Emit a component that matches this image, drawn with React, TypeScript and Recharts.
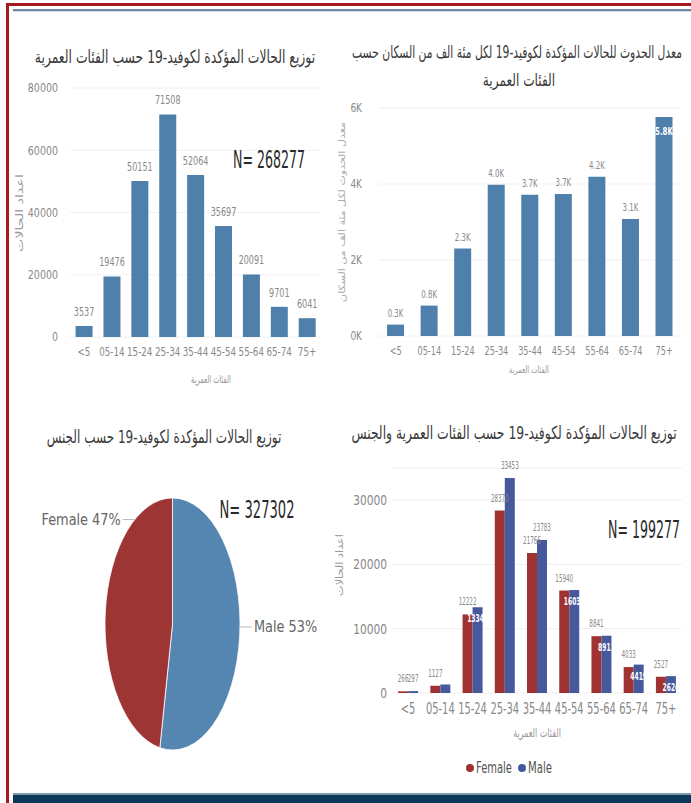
import React, { useLayoutEffect, useRef, useState } from 'react';
import { BarChart, Bar, XAxis, YAxis, CartesianGrid, LabelList, PieChart, Pie, Cell, Legend } from 'recharts';

const ageGroups = ['<5', '05-14', '15-24', '25-34', '35-44', '45-54', '55-64', '65-74', '75+'];
const casesByAge = [3537, 19476, 50151, 71508, 52064, 35697, 20091, 9701, 6041];
const incidencePer100k = [300, 800, 2300, 3980, 3720, 3740, 4190, 3080, 5760];
const femaleCases = [266, 1127, 12222, 28370, 21766, 15940, 8841, 4033, 2527];
const maleCases = [297, 1322, 13346, 33453, 23783, 16030, 8911, 4419, 2624];
const maleLabelMode = ['top', 'none', 'inside', 'top', 'top', 'inside', 'inside', 'inside', 'inside'];
const genderNames = ['Male', 'Female'];
const genderCases = [173470, 153832];
const casesTicks = [0, 20000, 40000, 60000, 80000];
const incidenceTicks = [0, 2000, 4000, 6000];
const sexAgeTicks = [0, 10000, 20000, 30000];

const ageData = ageGroups.map((g, i) => ({ g, v: casesByAge[i] }));
const incData = ageGroups.map((g, i) => ({ g, v: incidencePer100k[i] }));
const sexData = ageGroups.map((g, i) => ({ g, Female: femaleCases[i], Male: maleCases[i] }));
const pieData = genderNames.map((name, i) => ({ name, value: genderCases[i] }));

const FONT = "'DejaVu Sans',sans-serif";
const AR = "'DejaVu Sans',sans-serif";
const BLUE = '#4f80ab';
const PIE_BLUE = '#5586b1';
const PIE_RED = '#9c3533';
const FEM = '#a13232';
const MALE = '#46599c';
const PIE_STRETCH = 1.867;
const RAD = Math.PI / 180;

const FitTxt = ({ x, y, w, size, color = '#333', children, weight = 400, rotate = 0, family = FONT, dir }: any) => {
  const ref = useRef<HTMLDivElement>(null);
  const [s, setS] = useState(1);
  useLayoutEffect(() => {
    if (ref.current) {
      const nat = ref.current.offsetWidth;
      if (nat) setS(w / nat);
    }
  }, [w]);
  return (
    <div
      ref={ref}
      dir={dir}
      style={{
        position: 'absolute', left: x, top: y, whiteSpace: 'nowrap', fontSize: size, color,
        fontFamily: family, fontWeight: weight, lineHeight: 1.2,
        transform: `translate(-50%,-50%) rotate(${rotate}deg) scaleX(${s})`,
      }}
    >
      {children}
    </div>
  );
};

const SText = ({ x, y, sx, anchor = 'middle', children, ...rest }: any) => (
  <g transform={`translate(${x},${y})`}>
    <text x={0} y={0} transform={`scale(${sx},1)`} textAnchor={anchor} {...rest}>
      {children}
    </text>
  </g>
);

const makeXTick = (size: number, sx: number) => (props: any) => (
  <SText x={props.x} y={props.y} sx={sx} dy="0.71em" fill="#888" fontSize={size} fontFamily={FONT}>
    {props.payload.value}
  </SText>
);

const makeYTick = (size: number, sx: number, fmt: (v: number) => string) => (props: any) => (
  <SText x={props.x} y={props.y} sx={sx} anchor="end" dy="0.355em" fill="#888" fontSize={size} fontFamily={FONT}>
    {fmt(props.payload.value)}
  </SText>
);

const EllipseSector = (props: any) => {
  const { cx, cy, outerRadius, startAngle, endAngle, fill } = props;
  const rx = outerRadius;
  const ry = outerRadius * PIE_STRETCH;
  const p = (a: number) => [cx + rx * Math.cos(-a * RAD), cy + ry * Math.sin(-a * RAD)];
  const [x1, y1] = p(startAngle);
  const [x2, y2] = p(endAngle);
  const large = Math.abs(endAngle - startAngle) > 180 ? 1 : 0;
  const sweep = startAngle > endAngle ? 1 : 0;
  return (
    <path
      d={`M${cx},${cy} L${x1},${y1} A${rx},${ry} 0 ${large} ${sweep} ${x2},${y2} Z`}
      fill={fill}
      stroke="#ffffff"
      strokeWidth={0.8}
    />
  );
};

const renderPieLabel = (props: any) => {
  const { cx, cy, outerRadius, midAngle, name, percent } = props;
  const left = Math.cos(-midAngle * RAD) < 0;
  const a = left ? 124 : midAngle * 0.25;
  const rx = outerRadius;
  const ry = outerRadius * PIE_STRETCH;
  const px = cx + rx * Math.cos(-a * RAD);
  const py = cy + ry * Math.sin(-a * RAD);
  const dir = left ? -1 : 1;
  const ex = px + dir * 12;
  const txt = `${name} ${Math.round(percent * 100)}%`;
  return (
    <g>
      <line x1={px} y1={py} x2={ex} y2={py} stroke="#bbb" strokeWidth={1} />
      <SText x={ex + dir * 2} y={py} sx={0.86} anchor={left ? 'end' : 'start'} dy="0.35em" fill="#666" fontSize={15} fontFamily={FONT}>
        {txt}
      </SText>
    </g>
  );
};

const fmtK = (v: number) => `${(v / 1000).toFixed(1)}K`;

const CasesLabel = (props: any) => {
  const vb = props.viewBox || props;
  const { x, y, width } = vb;
  return (
    <SText x={x + width / 2} y={y - 10} sx={0.7} fill="#888" fontSize={11.5} fontFamily={FONT}>
      {props.value}
    </SText>
  );
};

const IncLabel = (props: any) => {
  const vb = props.viewBox || props;
  const { x, y, width } = vb;
  const value = Number(props.value);
  const cx = x + width / 2;
  if (value >= 6000 * 0.9) {
    return (
      <SText x={cx} y={y + 18} sx={0.7} fill="#fff" fontWeight="bold" fontSize={10} fontFamily={FONT}>
        {fmtK(value)}
      </SText>
    );
  }
  return (
    <SText x={cx} y={y - 8} sx={0.7} fill="#888" fontSize={10} fontFamily={FONT}>
      {fmtK(value)}
    </SText>
  );
};

const FemaleLabel = (props: any) => {
  const vb = props.viewBox || props;
  const { x, y, width } = vb;
  return (
    <SText x={x + width / 2} y={y - 9} sx={0.56} fill="#888" fontSize={10} fontFamily={FONT}>
      {props.value}
    </SText>
  );
};

const MaleLabel = (props: any) => {
  const vb = props.viewBox || props;
  const { x, y, width, height } = vb;
  const value = Number(props.value);
  const i = props.index ?? maleCases.indexOf(value);
  const mode = maleLabelMode[i];
  if (mode === 'none') return null;
  const cx = x + width / 2;
  if (mode === 'top') {
    return (
      <SText x={cx} y={y - 9} sx={0.56} fill="#888" fontSize={10} fontFamily={FONT}>
        {value}
      </SText>
    );
  }
  return (
    <SText x={cx} y={Math.min(y + 15, y + height - 2)} sx={0.6} fill="#fff" fontWeight="bold" fontSize={10} fontFamily={FONT}>
      {value}
    </SText>
  );
};

const SexLegend = (props: any) => {
  const items = props.payload || [];
  const widths = items.map((e: any) => String(e.value).length * 6);
  const total = widths.reduce((a: number, b: number) => a + b, 0) + items.length * 16;
  let cur = (334 - total) / 2;
  return (
    <svg width={334} height={20}>
      {items.map((e: any, i: number) => {
        const start = cur;
        cur += 16 + widths[i];
        return (
          <g key={e.value}>
            <circle cx={start + 4} cy={10} r={4} fill={e.color} />
            <text x={start + 10} y={10} dy="0.35em" fill="#555" fontSize={15} fontFamily={FONT} textLength={widths[i]} lengthAdjust="spacingAndGlyphs">
              {e.value}
            </text>
          </g>
        );
      })}
    </svg>
  );
};

export default function App() {
  return (
    <div style={{ position: 'absolute', left: 0, top: 0, width: 691, height: 803, overflow: 'hidden', background: '#fff' }}>
      {/* frame */}
      <div style={{ position: 'absolute', left: 6, top: 3, width: 685, height: 3, background: '#a8191f' }} />
      <div style={{ position: 'absolute', left: 6, top: 3, width: 3, height: 800, background: '#a8191f' }} />
      <div style={{ position: 'absolute', left: 13, top: 9, width: 678, height: 2, background: '#6d8aa2' }} />
      <div style={{ position: 'absolute', left: 13, top: 11, width: 678, height: 1, background: '#d3dde6' }} />
      <div style={{ position: 'absolute', left: 13, top: 793, width: 678, height: 2, background: '#7f98ab' }} />
      <div style={{ position: 'absolute', left: 13, top: 795, width: 678, height: 8, background: '#0d3958' }} />

      {/* Panel 1 */}
      <div style={{ position: 'absolute', left: 0, top: 0 }}>
        <BarChart width={345} height={400} data={ageData} margin={{ top: 88, right: 24, bottom: 33, left: 10 }} barCategoryGap="20%">
          <CartesianGrid vertical={false} stroke="#f0f0f0" />
          <XAxis dataKey="g" tickLine={false} axisLine={false} tick={makeXTick(12.5, 0.7)} tickSize={4} tickMargin={6} interval={0} />
          <YAxis width={60} domain={[0, 80000]} ticks={casesTicks} tickLine={false} axisLine={false} tick={makeYTick(12.5, 0.76, (v) => String(v))} tickSize={6} tickMargin={6} />
          <Bar dataKey="v" fill={BLUE} isAnimationActive={false}>
            <LabelList dataKey="v" content={CasesLabel} />
          </Bar>
        </BarChart>
      </div>
      <FitTxt x={175} y={57} w={280} size={18} color="#3a3a3a" family={AR} dir="rtl">توزيع الحالات المؤكدة لكوفيد-19 حسب الفئات العمرية</FitTxt>
      <FitTxt x={269} y={160} w={72} size={25} color="#2a2a2a">N= 268277</FitTxt>
      <FitTxt x={20} y={213} w={78} size={10} color="#999" family={AR} rotate={-90} dir="rtl">اعداد الحالات</FitTxt>
      <FitTxt x={211} y={380} w={40} size={11} color="#999" family={AR} dir="rtl">الفئات العمرية</FitTxt>

      {/* Panel 2 */}
      <div style={{ position: 'absolute', left: 345, top: 0 }}>
        <BarChart width={346} height={400} data={incData} margin={{ top: 108, right: 10, bottom: 34, left: 4 }} barCategoryGap="24%">
          <CartesianGrid vertical={false} stroke="#f0f0f0" />
          <XAxis dataKey="g" tickLine={false} axisLine={false} tick={makeXTick(12, 0.68)} tickSize={4} tickMargin={6} interval={0} />
          <YAxis width={30} domain={[0, 6000]} ticks={incidenceTicks} tickLine={false} axisLine={false} tick={makeYTick(12, 0.75, (v) => `${v / 1000}K`)} tickSize={6} tickMargin={11} />
          <Bar dataKey="v" fill={BLUE} isAnimationActive={false}>
            <LabelList dataKey="v" content={IncLabel} />
          </Bar>
        </BarChart>
      </div>
      <FitTxt x={517} y={52} w={330} size={17} color="#3a3a3a" family={AR} dir="rtl">معدل الحدوث للحالات المؤكدة لكوفيد-19 لكل مئة الف من السكان حسب</FitTxt>
      <FitTxt x={519} y={80} w={72} size={17} color="#3a3a3a" family={AR} dir="rtl">الفئات العمرية</FitTxt>
      <FitTxt x={342} y={212} w={180} size={9} color="#aaa" family={AR} rotate={-90} dir="rtl">معدل الحدوث لكل مئة الف من السكان</FitTxt>
      <FitTxt x={529} y={370} w={40} size={10} color="#999" family={AR} dir="rtl">الفئات العمرية</FitTxt>

      {/* Panel 3 */}
      <div style={{ position: 'absolute', left: 0, top: 400 }}>
        <PieChart width={345} height={393}>
          <Pie
            data={pieData}
            dataKey="value"
            nameKey="name"
            cx={167.5}
            cy={219}
            outerRadius={67.5}
            startAngle={90}
            endAngle={-270}
            isAnimationActive={false}
            shape={EllipseSector}
            activeShape={EllipseSector}
            inactiveShape={EllipseSector}
            label={renderPieLabel}
            labelLine={false}
          >
            <Cell fill={PIE_BLUE} />
            <Cell fill={PIE_RED} />
          </Pie>
        </PieChart>
      </div>
      <FitTxt x={164} y={437} w={235} size={18} color="#3a3a3a" family={AR} dir="rtl">توزيع الحالات المؤكدة لكوفيد-19 حسب الجنس</FitTxt>
      <FitTxt x={257} y={510} w={75} size={25} color="#2a2a2a">N= 327302</FitTxt>

      {/* Panel 4 */}
      <div style={{ position: 'absolute', left: 345, top: 400 }}>
        <BarChart width={346} height={393} data={sexData} margin={{ top: 68, right: 9, bottom: 70, left: 7 }} barCategoryGap="19%" barGap={0}>
          <CartesianGrid vertical={false} stroke="#f0f0f0" />
          <XAxis dataKey="g" tickLine={false} axisLine={false} tick={makeXTick(15, 0.66)} tickSize={4} tickMargin={6} interval={0} />
          <YAxis width={40} domain={[0, 35000]} ticks={sexAgeTicks} tickLine={false} axisLine={false} tick={makeYTick(14, 0.76, (v) => String(v))} tickSize={0} tickMargin={5} />
          <Legend
            verticalAlign="middle"
            align="center"
            content={SexLegend}
            wrapperStyle={{ top: 358, left: 0, width: 334, height: 20 }}
          />
          <Bar dataKey="Female" name="Female" fill={FEM} isAnimationActive={false}>
            <LabelList dataKey="Female" content={FemaleLabel} />
          </Bar>
          <Bar dataKey="Male" name="Male" fill={MALE} isAnimationActive={false}>
            <LabelList dataKey="Male" content={MaleLabel} />
          </Bar>
        </BarChart>
      </div>
      <FitTxt x={514} y={433} w={325} size={18} color="#3a3a3a" family={AR} dir="rtl">توزيع الحالات المؤكدة لكوفيد-19 حسب الفئات العمرية والجنس</FitTxt>
      <FitTxt x={644} y={530} w={72} size={25} color="#2a2a2a">N= 199277</FitTxt>
      <FitTxt x={340} y={565} w={62} size={10} color="#999" family={AR} rotate={-90} dir="rtl">اعداد الحالات</FitTxt>
      <FitTxt x={537} y={733} w={48} size={12} color="#999" family={AR} dir="rtl">الفئات العمرية</FitTxt>
    </div>
  );
}
